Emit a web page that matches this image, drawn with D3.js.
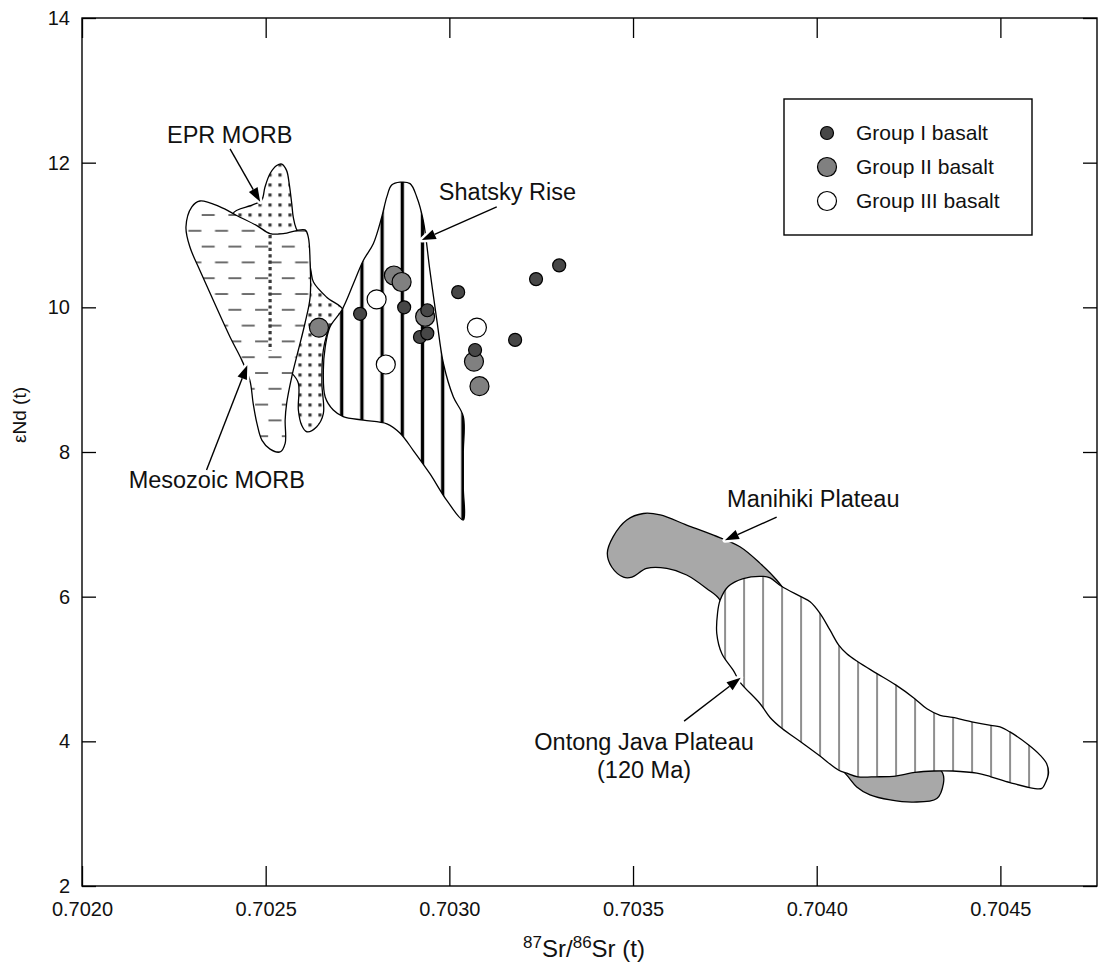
<!DOCTYPE html>
<html>
<head>
<meta charset="utf-8">
<script src="https://cdn.jsdelivr.net/npm/d3@7"></script>
<style>
  body { margin: 0; background: #fff; }
  svg { display: block; font-family: "Liberation Sans", Arial, Helvetica, sans-serif; }
</style>
</head>
<body>
<div id="chart"></div>
<script>
// tick values
var xTicks = [0.7020, 0.7025, 0.7030, 0.7035, 0.7040, 0.7045];
var yTicks = [2, 4, 6, 8, 10, 12, 14];

// basalt samples [87Sr/86Sr, eNd]
var groupI = [[0.702757, 9.91], [0.702877, 10.00], [0.702940, 9.96], [0.703024, 10.21], [0.702920, 9.59],
  [0.702940, 9.64], [0.703070, 9.41], [0.703179, 9.55], [0.703236, 10.39], [0.703299, 10.58]];
var groupII = [[0.702849, 10.44], [0.702870, 10.35], [0.702934, 9.87], [0.703067, 9.25], [0.703082, 8.91], [0.702645, 9.72]];
var groupIII = [[0.702802, 10.11], [0.702827, 9.21], [0.703075, 9.72]];

// field outlines
var eprMorb = [[0.702412, 11.30], [0.702466, 11.42], [0.702489, 11.48], [0.702498, 11.66], [0.702512, 11.85], [0.702530, 11.96],
  [0.702544, 11.98], [0.702557, 11.89], [0.702564, 11.71], [0.702571, 11.43], [0.702575, 11.25], [0.702583, 11.09],
  [0.702610, 10.86], [0.702623, 10.51], [0.702630, 10.35], [0.702666, 10.14], [0.702711, 9.96], [0.702675, 9.73],
  [0.702657, 9.41], [0.702653, 8.95], [0.702657, 8.53], [0.702639, 8.35], [0.702612, 8.28], [0.702598, 8.37],
  [0.702589, 8.58], [0.702589, 8.95], [0.702571, 9.09], [0.702539, 9.20], [0.702512, 9.41], [0.702512, 10.93]];
var eprHidden = [[0.702512, 11.00], [0.702512, 9.40]];
var mesozoicMorb = [[0.702321, 11.47], [0.702299, 11.39], [0.702283, 11.11], [0.702294, 10.83], [0.702321, 10.51],
  [0.702357, 10.10], [0.702403, 9.59], [0.702435, 9.27], [0.702457, 8.99], [0.702466, 8.67], [0.702476, 8.40],
  [0.702490, 8.16], [0.702512, 8.04], [0.702539, 8.00], [0.702553, 8.12], [0.702553, 8.44], [0.702557, 8.67],
  [0.702571, 9.04], [0.702589, 9.41], [0.702607, 9.78], [0.702621, 10.14], [0.702621, 10.61], [0.702616, 10.97],
  [0.702607, 11.07], [0.702548, 11.02], [0.702512, 11.02], [0.702476, 11.13], [0.702421, 11.27], [0.702376, 11.39]];
var shatsky = [[0.702707, 9.96], [0.702739, 10.33], [0.702766, 10.65], [0.702793, 10.88], [0.702816, 11.25], [0.702830, 11.53],
  [0.702843, 11.69], [0.702866, 11.73], [0.702893, 11.71], [0.702911, 11.53], [0.702929, 11.20], [0.702947, 10.51],
  [0.702966, 9.82], [0.702984, 9.22], [0.703011, 8.76], [0.703038, 8.49], [0.703038, 8.00], [0.703038, 7.50],
  [0.703038, 7.06], [0.702993, 7.33], [0.702947, 7.70], [0.702902, 8.02], [0.702866, 8.26], [0.702830, 8.39],
  [0.702766, 8.44], [0.702711, 8.49], [0.702684, 8.58], [0.702662, 8.76], [0.702657, 9.13], [0.702662, 9.45], [0.702675, 9.73]];
var manihiki = [[0.703528, 7.15], [0.703574, 7.13], [0.703646, 6.99], [0.703719, 6.85], [0.703791, 6.69], [0.703846, 6.46],
  [0.703891, 6.23], [0.704009, 5.40], [0.704172, 4.29], [0.704309, 3.74], [0.704343, 3.56], [0.704345, 3.42],
  [0.704327, 3.21], [0.704263, 3.16], [0.704200, 3.19], [0.704145, 3.26], [0.704109, 3.37], [0.704077, 3.56],
  [0.703955, 4.15], [0.703846, 4.71], [0.703764, 5.40], [0.703737, 5.95], [0.703701, 6.11], [0.703646, 6.30],
  [0.703592, 6.39], [0.703537, 6.39], [0.703497, 6.27], [0.703474, 6.27], [0.703442, 6.41], [0.703430, 6.60],
  [0.703446, 6.83], [0.703483, 7.06]];
var ontongJava = [[0.703737, 5.95], [0.703759, 6.14], [0.703800, 6.25], [0.703855, 6.28], [0.703873, 6.26], [0.703905, 6.14],
  [0.703957, 6.00], [0.703982, 5.93], [0.704009, 5.77], [0.704036, 5.54], [0.704060, 5.33], [0.704082, 5.21],
  [0.704112, 5.10], [0.704163, 4.94], [0.704215, 4.78], [0.704267, 4.59], [0.704300, 4.45], [0.704336, 4.36],
  [0.704370, 4.33], [0.704422, 4.27], [0.704474, 4.22], [0.704499, 4.20], [0.704526, 4.13], [0.704577, 3.95],
  [0.704608, 3.81], [0.704626, 3.69], [0.704631, 3.56], [0.704622, 3.42], [0.704613, 3.35], [0.704590, 3.35],
  [0.704526, 3.43], [0.704474, 3.51], [0.704436, 3.56], [0.704370, 3.59], [0.704319, 3.59], [0.704267, 3.57],
  [0.704236, 3.54], [0.704215, 3.52], [0.704163, 3.51], [0.704112, 3.51], [0.704082, 3.56], [0.704060, 3.60],
  [0.704008, 3.80], [0.703957, 3.99], [0.703905, 4.18], [0.703873, 4.33], [0.703846, 4.52], [0.703791, 4.82],
  [0.703773, 4.98], [0.703742, 5.21], [0.703728, 5.49], [0.703730, 5.77]];

// annotation labels and arrows
var labelText = ["EPR MORB", "Shatsky Rise", "Mesozoic MORB", "Manihiki Plateau", "Ontong Java Plateau", "(120 Ma)"];
var labelPos = [[0.702402, 12.27], [0.703158, 11.48], [0.702367, 7.50], [0.703756, 7.24], [0.703530, 3.88], [0.703530, 3.50]];
var labelAnchor = ["middle", "middle", "middle", "start", "middle", "middle"];
var arrowFrom = [[0.702403, 12.19], [0.703129, 11.39], [0.702339, 7.75], [0.703891, 7.10], [0.703639, 4.28]];
var arrowTo = [[0.702485, 11.46], [0.702925, 10.93], [0.702450, 9.20], [0.703750, 6.78], [0.703793, 4.88]];

var legendNames = ["Group I basalt", "Group II basalt", "Group III basalt"];

var svgWidth = 1099, svgHeight = 963;
var margin = {top: 18, right: 2, bottom: 77, left: 82};

var xScale = d3.scaleLinear()
    .domain([0.7020, 0.704763])
    .range([margin.left, svgWidth - margin.right]);

var yScale = d3.scaleLinear()
    .domain([2, 14])
    .range([svgHeight - margin.bottom, margin.top]);

var field = d3.line()
    .x(function(d) { return xScale(d[0]); })
    .y(function(d) { return yScale(d[1]); })
    .curve(d3.curveCatmullRomClosed.alpha(0.5));

var svg = d3.select("#chart").append("svg")
    .attr("width", svgWidth)
    .attr("height", svgHeight);

var defs = svg.append("defs");

// dots for EPR MORB
var pDots = defs.append("pattern").attr("id", "dots")
    .attr("patternUnits", "userSpaceOnUse")
    .attr("x", 268.4).attr("y", 213.4).attr("width", 10).attr("height", 10);
pDots.append("rect").attr("width", 10).attr("height", 10).attr("fill", "#fff");
pDots.append("rect").attr("width", 3.2).attr("height", 3.2).attr("fill", "#3a3a3a");

// staggered dashes for Mesozoic MORB
var pDash = defs.append("pattern").attr("id", "dashes")
    .attr("patternUnits", "userSpaceOnUse")
    .attr("x", 201.7).attr("y", 213).attr("width", 26.7).attr("height", 31.6);
pDash.append("rect").attr("width", 26.7).attr("height", 31.6).attr("fill", "#fff");
pDash.append("line").attr("x1", 0).attr("x2", 13).attr("y1", 2).attr("y2", 2)
    .attr("stroke", "#222").attr("stroke-width", 1.3);
pDash.append("line").attr("x1", 13.35).attr("x2", 26.35).attr("y1", 17.8).attr("y2", 17.8)
    .attr("stroke", "#222").attr("stroke-width", 1.3);

// thick verticals for Shatsky Rise
var pThick = defs.append("pattern").attr("id", "thick")
    .attr("patternUnits", "userSpaceOnUse")
    .attr("x", 331.6).attr("y", 0).attr("width", 20.2).attr("height", 20);
pThick.append("rect").attr("width", 20.2).attr("height", 20).attr("fill", "#fff");
pThick.append("rect").attr("x", 8.45).attr("width", 3.3).attr("height", 20).attr("fill", "#000");

// thin verticals for Ontong Java
var pThin = defs.append("pattern").attr("id", "thin")
    .attr("patternUnits", "userSpaceOnUse")
    .attr("x", 715.5).attr("y", 0).attr("width", 19).attr("height", 20);
pThin.append("rect").attr("width", 19).attr("height", 20).attr("fill", "#fff");
pThin.append("rect").attr("x", 9).attr("width", 1.1).attr("height", 20).attr("fill", "#333");

// fields
function drawField(data, fill) {
  svg.append("path")
    .datum(data)
    .attr("d", field)
    .attr("fill", fill)
    .attr("stroke", "#000")
    .attr("stroke-width", 1.3)
    .attr("stroke-linejoin", "round");
}
drawField(eprMorb, "url(#dots)");
drawField(mesozoicMorb, "url(#dashes)");

svg.append("path")
    .datum(eprHidden)
    .attr("d", d3.line().x(function(d) { return xScale(d[0]); }).y(function(d) { return yScale(d[1]); }))
    .attr("stroke", "#3a3a3a")
    .attr("stroke-width", 3.2)
    .attr("stroke-dasharray", "3.2,3.2");

drawField(shatsky, "url(#thick)");
drawField(manihiki, "#a8a8a8");
drawField(ontongJava, "url(#thin)");

// samples
function drawGroup(data, fill, r) {
  svg.append("g").selectAll("circle")
      .data(data)
    .enter().append("circle")
      .attr("cx", function(d) { return xScale(d[0]); })
      .attr("cy", function(d) { return yScale(d[1]); })
      .attr("r", r)
      .attr("fill", fill)
      .attr("stroke", "#000")
      .attr("stroke-width", 1.2);
}
drawGroup(groupII, "#808080", 9.5);
drawGroup(groupIII, "#fff", 9.5);
drawGroup(groupI, "#474747", 6.5);

// arrows
arrowFrom.forEach(function(f, i) {
  var x1 = xScale(f[0]), y1 = yScale(f[1]);
  var x2 = xScale(arrowTo[i][0]), y2 = yScale(arrowTo[i][1]);
  var a = Math.atan2(y2 - y1, x2 - x1), len = 14, hw = 5;
  var bx = x2 - len * Math.cos(a), by = y2 - len * Math.sin(a);
  var head = [[x2, y2],
    [bx + hw * Math.sin(a), by - hw * Math.cos(a)],
    [bx - hw * Math.sin(a), by + hw * Math.cos(a)]];
  svg.append("polygon")
      .attr("points", head.join(" "))
      .attr("fill", "#fff").attr("stroke", "#fff").attr("stroke-width", 5)
      .attr("stroke-linejoin", "round");
  svg.append("line")
      .attr("x1", x1).attr("y1", y1).attr("x2", bx).attr("y2", by)
      .attr("stroke", "#000").attr("stroke-width", 1.4);
  svg.append("polygon")
      .attr("points", head.join(" "))
      .attr("fill", "#000");
});

svg.append("g").selectAll("text")
    .data(labelText)
  .enter().append("text")
    .attr("x", function(d, i) { return xScale(labelPos[i][0]); })
    .attr("y", function(d, i) { return yScale(labelPos[i][1]); })
    .attr("text-anchor", function(d, i) { return labelAnchor[i]; })
    .style("font-size", "23.5px")
    .style("fill", "#111")
    .text(function(d) { return d; });

// frame and axes
svg.append("rect")
    .attr("x", margin.left).attr("y", margin.top)
    .attr("width", svgWidth - margin.right - margin.left)
    .attr("height", svgHeight - margin.bottom - margin.top)
    .attr("fill", "none").attr("stroke", "#000").attr("stroke-width", 1.4);

var xAxis = svg.append("g")
    .attr("transform", "translate(0," + (svgHeight - margin.bottom) + ")")
    .call(d3.axisBottom(xScale).tickValues(xTicks).tickSize(-20).tickPadding(16).tickFormat(d3.format(".4f")));
var yAxis = svg.append("g")
    .attr("transform", "translate(" + margin.left + ",0)")
    .call(d3.axisLeft(yScale).tickValues(yTicks).tickSize(-14).tickPadding(12).tickFormat(d3.format("d")));
svg.append("g")
    .attr("transform", "translate(0," + margin.top + ")")
    .call(d3.axisTop(xScale).tickValues(xTicks).tickSize(-20).tickFormat(""));
svg.append("g")
    .attr("transform", "translate(" + (svgWidth - margin.right) + ",0)")
    .call(d3.axisRight(yScale).tickValues(yTicks).tickSize(-14).tickFormat(""));

svg.selectAll(".domain").remove();
svg.selectAll(".tick line").attr("stroke", "#000").attr("stroke-width", 1.3);
svg.selectAll(".tick text")
    .style("font-family", "'Liberation Sans', Arial, sans-serif")
    .style("font-size", "20px")
    .style("fill", "#111");

// axis titles
var xTitle = svg.append("text")
    .attr("x", 584).attr("y", 957)
    .attr("text-anchor", "middle")
    .style("font-size", "24px")
    .style("fill", "#111");
xTitle.append("tspan").attr("dy", -9).style("font-size", "17px").text("87");
xTitle.append("tspan").attr("dy", 9).text("Sr/");
xTitle.append("tspan").attr("dy", -9).style("font-size", "17px").text("86");
xTitle.append("tspan").attr("dy", 9).text("Sr (t)");

svg.append("text")
    .attr("transform", "translate(26,415) rotate(-90)")
    .attr("text-anchor", "middle")
    .style("font-size", "19px")
    .style("fill", "#111")
    .text("εNd (t)");

// legend
var legend = svg.append("g").attr("transform", "translate(784,99)");
legend.append("rect")
    .attr("width", 248).attr("height", 136)
    .attr("fill", "#fff").attr("stroke", "#000").attr("stroke-width", 1.4);
var legendFill = ["#474747", "#808080", "#fff"];
var legendR = [6.5, 9.5, 9.5];
legend.selectAll(".item")
    .data(legendNames)
  .enter().append("g")
    .attr("class", "item")
    .attr("transform", function(d, i) { return "translate(43," + (34 + i * 34) + ")"; })
    .each(function(d, i) {
      var g = d3.select(this);
      g.append("circle").attr("r", legendR[i]).attr("fill", legendFill[i])
        .attr("stroke", "#000").attr("stroke-width", 1.2);
      g.append("text").attr("x", 29).attr("dy", "0.35em")
        .style("font-size", "21px").style("fill", "#111").text(d);
    });
</script>
</body>
</html>
